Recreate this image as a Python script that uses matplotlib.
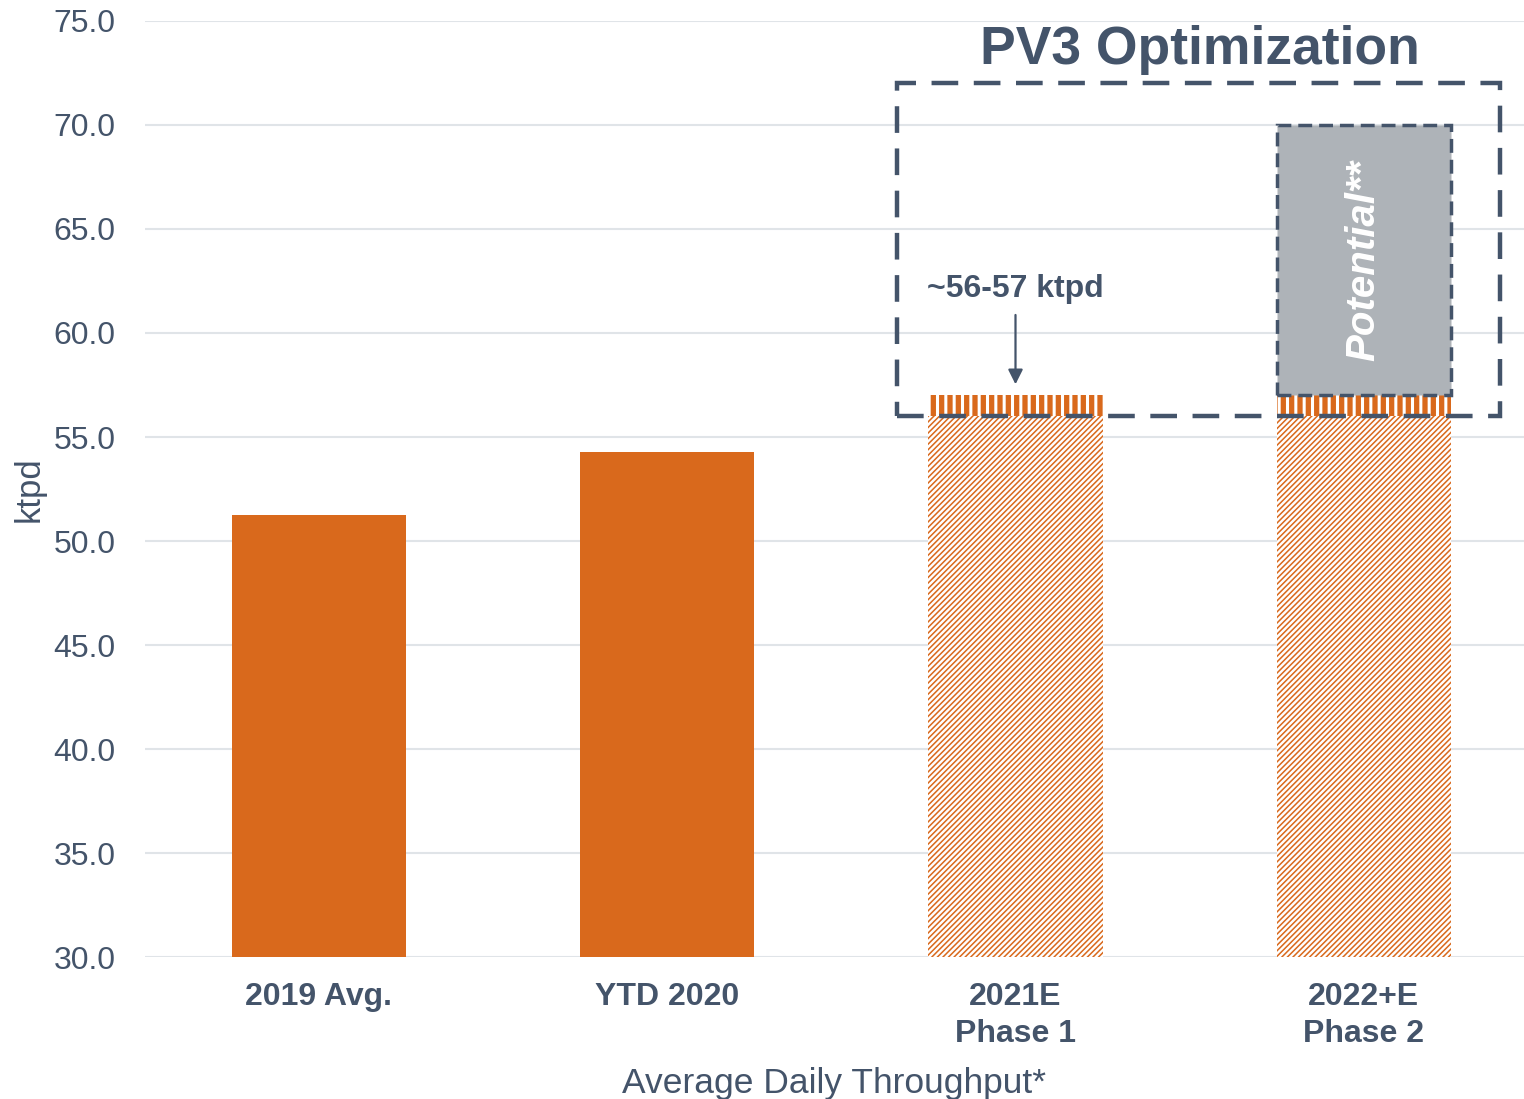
import matplotlib
matplotlib.use("Agg")
import matplotlib.pyplot as plt
from matplotlib.patches import Rectangle

plt.rcParams['font.family'] = ['Liberation Sans', 'DejaVu Sans']

# data
categories = ['2019 Avg.', 'YTD 2020', '2021E\nPhase 1', '2022+E\nPhase 2']
actual = [51.25, 54.3, None, None]          # solid bars
base_est = [None, None, 56.0, 56.0]          # hatched base (estimate)
range_top = [None, None, 57.0, 57.0]         # ~56-57 ktpd band
potential_top = [None, None, None, 70.0]     # potential upside
box_y = (56.0, 72.0)

orange = '#D9691C'
slate = '#44546A'
grey = '#AEB3B8'
grid_c = '#E0E4E8'

fig = plt.figure(figsize=(15.24, 10.99), dpi=100)
ax = fig.add_axes([0.095, 0.129, 0.905, 0.852])

x = list(range(len(categories)))
w = 0.5
ymin = 30.0

for i in x:
    if actual[i] is not None:
        ax.bar(i, actual[i] - ymin, bottom=ymin, width=w, color=orange, zorder=2)
    if base_est[i] is not None:
        b = ax.bar(i, base_est[i] - ymin, bottom=ymin, width=w, color='white',
                   edgecolor=orange, linewidth=0, hatch='//////', zorder=2)
        try:
            b[0].set_hatch_linewidth(1.1)
        except AttributeError:
            pass
    if range_top[i] is not None:
        b = ax.bar(i, range_top[i] - base_est[i], bottom=base_est[i], width=w,
                   color=orange, edgecolor='white', linewidth=0, hatch='||', zorder=2)
        try:
            b[0].set_hatch_linewidth(2.2)
        except AttributeError:
            pass
    if potential_top[i] is not None:
        ax.bar(i, potential_top[i] - range_top[i], bottom=range_top[i], width=w,
               color=grey, edgecolor=slate, linewidth=2.5, linestyle=(0, (4, 2)), zorder=3)
        ax.text(i, 63.5, 'Potential**', rotation=90, ha='center', va='center',
                color='white', fontsize=29, fontweight='bold', fontstyle='italic', zorder=4)

# PV3 optimization box
box = Rectangle((1.66, box_y[0]), 3.39 - 1.66, box_y[1] - box_y[0], fill=False,
                edgecolor=slate, linewidth=3.2, linestyle=(0, (6, 3.5)), zorder=5)
ax.add_patch(box)
ax.text(2.53, 73.6, 'PV3 Optimization', ha='center', va='center', color=slate,
        fontsize=38.5, fontweight='bold')

# arrow to 2021E
ax.annotate('', xy=(2, 57.4), xytext=(2, 61.0),
            arrowprops=dict(arrowstyle='-|>', color=slate, lw=1.6, mutation_scale=22), zorder=5)
ax.text(2, 62.1, '~56-57 ktpd', ha='center', va='center', color=slate,
        fontsize=23, fontweight='bold')

ax.set_ylim(30, 75)
ax.set_xlim(-0.5, 3.46)
ax.set_yticks([30, 35, 40, 45, 50, 55, 60, 65, 70, 75])
ax.set_yticklabels([f'{v:.1f}' for v in ax.get_yticks()])
ax.set_xticks(x)
ax.set_xticklabels(categories, fontweight='bold', linespacing=1.3)
ax.tick_params(axis='y', length=0, pad=21, labelsize=23, labelcolor=slate)
ax.tick_params(axis='x', length=0, pad=18, labelsize=23, labelcolor=slate)
ax.yaxis.grid(True, color=grid_c, linewidth=1.5, zorder=0)
ax.set_axisbelow(True)
for s in ax.spines.values():
    s.set_visible(False)

ax.set_ylabel('ktpd', fontsize=25, color=slate, labelpad=6)
ax.set_xlabel('Average Daily Throughput*', fontsize=25.5, color=slate, labelpad=13)

fig.savefig('out.png', dpi=100)
